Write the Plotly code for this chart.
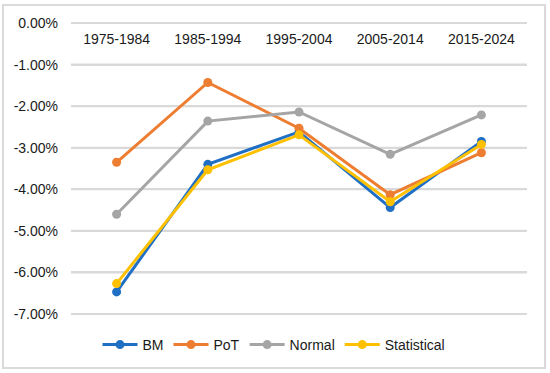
import plotly.graph_objects as go

categories = ["1975-1984", "1985-1994", "1995-2004", "2005-2014", "2015-2024"]
bm = [-6.47, -3.40, -2.62, -4.44, -2.85]
pot = [-3.35, -1.43, -2.53, -4.13, -3.12]
normal = [-4.60, -2.36, -2.14, -3.16, -2.21]
statistical = [-6.27, -3.53, -2.69, -4.30, -2.92]
series_names = ["BM", "PoT", "Normal", "Statistical"]
colors = ["#1F6FC5", "#ED7D31", "#A5A5A5", "#FFC000"]
y_ticks = [0, -1, -2, -3, -4, -5, -6, -7]
y_tick_labels = ["0.00%", "-1.00%", "-2.00%", "-3.00%", "-4.00%", "-5.00%", "-6.00%", "-7.00%"]

xpos = list(range(len(categories)))
xmin, xmax = -0.5, len(categories) - 0.5

fig = go.Figure()
# gridlines at the y tick values, drawn beneath the series
gx, gy = [], []
for v in y_ticks:
    gx += [xmin, xmax, None]
    gy += [v, v, None]
fig.add_trace(go.Scatter(x=gx, y=gy, mode="lines", line=dict(color="#D9D9D9", width=2),
                         showlegend=False, hoverinfo="skip"))
for name, vals, col in zip(series_names, [bm, pot, normal, statistical], colors):
    fig.add_trace(go.Scatter(
        x=xpos, y=vals, name=name, mode="lines+markers",
        line=dict(color=col, width=3),
        marker=dict(color=col, size=9),
    ))

W, H = 550, 373
L, R, T, B = 71, 23, 22, 58
pw, ph = W - L - R, H - T - B

def px(x):
    return (x - L) / pw

def py(y):
    return (H - B - y) / ph

fig.update_layout(
    width=W, height=H,
    margin=dict(l=L, r=R, t=T, b=B, autoexpand=False),
    paper_bgcolor="white", plot_bgcolor="white",
    font=dict(family="Liberation Sans, Arial, sans-serif", size=14, color="#1a1a1a"),
    showlegend=True,
    legend=dict(orientation="h", x=px(274), xanchor="center", y=py(345), yanchor="middle",
                font=dict(size=14), itemwidth=35, tracegroupgap=0),
    xaxis=dict(side="top", anchor="free", position=py(47), showgrid=False, showline=False,
               zeroline=False, tickvals=xpos, ticktext=categories,
               ticks="", ticklabelstandoff=0, range=[xmin, xmax], automargin=False),
    yaxis=dict(range=[-7.025, 0.025], tickvals=y_ticks, ticktext=y_tick_labels,
               showgrid=True, gridcolor="#D9D9D9", gridwidth=2, zeroline=False,
               showline=False, ticks="", ticklabelstandoff=12, automargin=False),
    shapes=[dict(type="rect", xref="paper", yref="paper",
                 x0=px(3), x1=px(545), y0=py(368), y1=py(5),
                 line=dict(color="#DADADA", width=2), fillcolor="rgba(0,0,0,0)", layer="below")],
)

fig.write_html("out.html", config={"displayModeBar": False},
               post_script="document.body.style.margin='0';document.body.style.padding='0';")
